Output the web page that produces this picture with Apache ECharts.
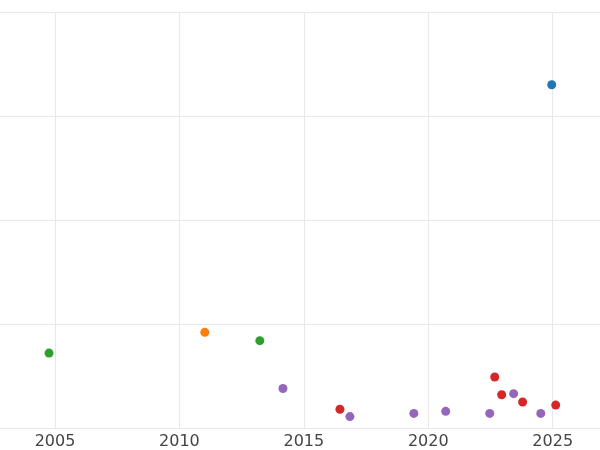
<!DOCTYPE html>
<html>
<head>
<meta charset="utf-8">
<script src="https://cdn.jsdelivr.net/npm/echarts@6/dist/echarts.min.js"></script>
<style>html,body{margin:0;padding:0;background:#fff}#main{width:600px;height:450px}</style>
</head>
<body>
<div id="main"></div>
<script>
// points per colour group: [year, value]
var bluePts = [[2024.96, 3.30]];
var orangePts = [[2011.02, 0.92]];
var greenPts = [[2004.76, 0.72], [2013.23, 0.84]];
var redPts = [[2016.45, 0.18], [2022.67, 0.49], [2022.95, 0.32], [2023.79, 0.25], [2025.12, 0.22]];
var purplePts = [[2014.16, 0.38], [2016.85, 0.11], [2019.42, 0.14], [2020.70, 0.16],
                 [2022.47, 0.14], [2023.43, 0.33], [2024.52, 0.14]];
var yearTicks = [2005, 2010, 2015, 2020, 2025];

var groups = [
  {data: bluePts, color: '#1f77b4'},
  {data: orangePts, color: '#ff7f0e'},
  {data: greenPts, color: '#2ca02c'},
  {data: redPts, color: '#d62728'},
  {data: purplePts, color: '#9467bd'}
];

var myChart = echarts.init(document.getElementById('main'));
var option = {
  animation: false,
  grid: {left: 0, right: 0, top: 12, bottom: 22, containLabel: false},
  xAxis: {
    type: 'value', min: 2002.79, max: 2026.9,
    axisLine: {show: false},
    axisTick: {show: false, customValues: yearTicks},
    axisLabel: {color: '#444', fontSize: 16, fontFamily: 'DejaVu Sans', margin: 6,
                customValues: yearTicks, formatter: function (v) { return String(v); }},
    splitLine: {show: true, lineStyle: {color: '#e8e8e8', width: 1}}
  },
  yAxis: {
    type: 'value', min: 0, max: 4, interval: 1,
    axisLine: {show: false}, axisTick: {show: false}, axisLabel: {show: false},
    splitLine: {show: true, lineStyle: {color: '#e8e8e8', width: 1}}
  },
  series: groups.map(function (g) {
    return {type: 'scatter', data: g.data, symbolSize: 9, itemStyle: {color: g.color, opacity: 1}};
  })
};
myChart.setOption(option);
</script>
</body>
</html>
